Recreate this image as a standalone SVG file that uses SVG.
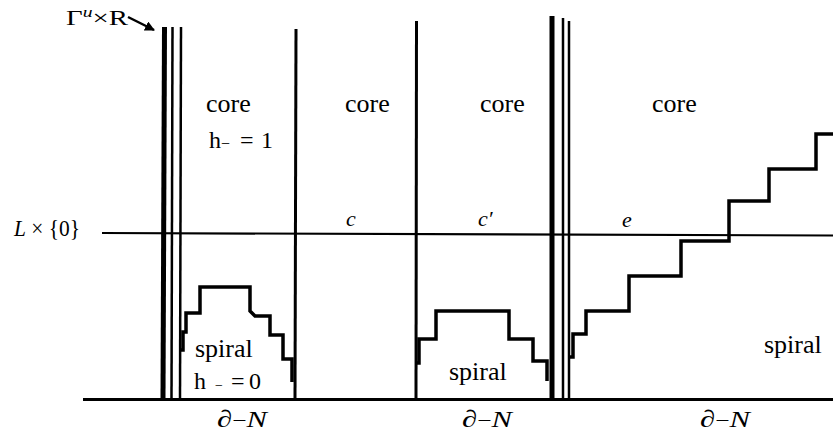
<svg xmlns="http://www.w3.org/2000/svg" width="833" height="434" viewBox="0 0 833 434">
<defs>
<style>
text{font-family:'Liberation Serif','DejaVu Serif',serif;fill:#000}
.w{font-size:26px}
.i{font-style:italic}
.ln{stroke:#000;fill:none;stroke-linecap:butt}
.thick{stroke-width:5}
.thin{stroke-width:2.5}
.wall{stroke-width:3}
.stair{stroke-width:3.5;stroke-linejoin:miter}
</style>
<marker id="ah" viewBox="0 0 10 10" refX="9" refY="5" markerWidth="4" markerHeight="4" orient="auto" markerUnits="strokeWidth">
<path d="M0,0 L10,5 L0,10 z" fill="#000"/>
</marker>
</defs>
<rect width="833" height="434" fill="#fff"/>

<g id="axes">
<path class="ln" stroke-width="2.2" d="M102,233 L833,235.5"/>
<path class="ln" stroke-width="3" d="M83,399.5 L833,399.5"/>
</g>

<g id="walls">
<path class="ln thick" d="M164.5,27 L163,399"/>
<path class="ln thin" d="M172.5,27 L171.5,399"/>
<path class="ln thin" d="M181,27 L180,399"/>
<path class="ln wall" d="M296,29 L295,399"/>
<path class="ln wall" d="M416.5,21 L416,399"/>
<path class="ln thick" d="M552,16 L552,399"/>
<path class="ln thin" d="M563,18 L563,399"/>
<path class="ln thin" d="M569,21 L569,399"/>
</g>

<g id="stairs">
<path class="ln stair" d="M180,350 L183,350 L183,332 L186,332 L186,313 L200,313 L200,287 L250,287 L250,311 L255,316 L270,316 L270,335 L283,335 L283,359 L292,359 L292,382"/>
<path class="ln stair" d="M416,363 L419,363 L419,339 L436,339 L436,311 L509,311 L509,339 L533,339 L533,361 L547,361 L547,381"/>
<path class="ln stair" d="M569,357 L573,357 L573,334 L586,334 L586,311 L629,311 L629,276 L681,276 L681,241 L729,241 L729,201 L769,201 L769,169 L816,169 L816,134 L833,134"/>
</g>

<g id="arrow" font-family="Liberation Serif, serif">
<path class="ln" stroke-width="2.5" d="M128,17 L154,30" marker-end="url(#ah)"/>
<text x="66" y="25" font-size="22" textLength="62" lengthAdjust="spacingAndGlyphs">Γ<tspan class="i" font-size="15" dy="-8">u</tspan><tspan dy="8">×R</tspan></text>
</g>

<g id="labels" font-family="Liberation Serif, serif">
<text class="w" x="206" y="112">core</text>
<text class="w" x="345" y="112">core</text>
<text class="w" x="480" y="112">core</text>
<text class="w" x="652" y="112">core</text>

<text font-size="24" y="148"><tspan x="209">h</tspan><tspan x="221" font-size="16" dy="1">−</tspan><tspan x="240" dy="-1">=</tspan><tspan x="261">1</tspan></text>

<text class="w" x="195" y="357">spiral</text>
<text font-size="24" y="389"><tspan x="194">h</tspan><tspan x="215" font-size="14" dy="1">−</tspan><tspan x="231" dy="-1">=</tspan><tspan x="249">0</tspan></text>
<text class="w" x="449" y="380">spiral</text>
<text class="w" x="764" y="353">spiral</text>

<text class="i" font-size="22" x="346" y="226">c</text>
<text class="i" font-size="22" x="478" y="226">c′</text>
<text class="i" font-size="22" x="622" y="227">e</text>

<text font-size="24" x="14" y="236" textLength="66" lengthAdjust="spacingAndGlyphs"><tspan class="i">L</tspan> × {0}</text>

<text font-size="24" x="217" y="427" textLength="50" lengthAdjust="spacingAndGlyphs">∂<tspan font-size="20">−</tspan><tspan class="i">N</tspan></text>
<text font-size="24" x="462" y="427" textLength="50" lengthAdjust="spacingAndGlyphs">∂<tspan font-size="20">−</tspan><tspan class="i">N</tspan></text>
<text font-size="24" x="700" y="427" textLength="50" lengthAdjust="spacingAndGlyphs">∂<tspan font-size="20">−</tspan><tspan class="i">N</tspan></text>
</g>
</svg>
